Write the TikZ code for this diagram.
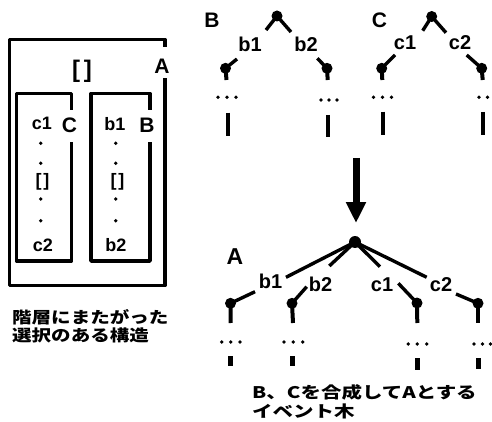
\documentclass[tikz,border=0pt]{standalone}
\usepackage{fontspec}
\setmainfont{Liberation Sans}
\newfontfamily\jp[FakeStretch=1.22]{Noto Sans CJK JP}
\newfontfamily\jpw[FakeStretch=1.28]{Noto Sans CJK JP}
\usetikzlibrary{arrows.meta}
\begin{document}
\begin{tikzpicture}[x=1pt,y=-1pt,
  box/.style={line width=3.4pt, line join=round},
  br/.style={line width=3.4pt},
  vl/.style={line width=4pt},
  dot/.style={circle, fill, inner sep=0pt, minimum size=11pt},
  sdot/.style={circle, fill, inner sep=0pt, minimum size=3.8pt},
  lab/.style={inner sep=0pt, font=\bfseries\fontsize{20}{24}\selectfont},
  blab/.style={inner sep=0pt, font=\bfseries\fontsize{18}{22}\selectfont},
  big/.style={inner sep=0pt, font=\bfseries\fontsize{21}{25}\selectfont},
  jpt/.style={inner sep=0pt, anchor=west, font=\jp\bfseries\fontsize{16}{18}\selectfont},
  jpw/.style={inner sep=0pt, anchor=west, font=\jpw\bfseries\fontsize{16}{18}\selectfont}]
\useasboundingbox (0,0) rectangle (492,422);

% ---------- left: nested boxes ----------
\draw[box] (165,47) -- (165,39.5) -- (9.5,39.5) -- (9.5,285.5) -- (165,285.5) -- (165,78);
\draw[box] (71.5,110) -- (71.5,93.5) -- (16.5,93.5) -- (16.5,261) -- (71.5,261) -- (71.5,142);
\draw[box] (150,110) -- (150,93.5) -- (91,93.5) -- (91,261) -- (150,261) -- (150,142);
\node[big] (lA) at (162,66) {A};
\node[big] (lC) at (69.5,125.5) {C};
\node[big] (lB) at (147,125) {B};
\node[inner sep=0pt, font=\bfseries\fontsize{24}{28}\selectfont] (lbr) at (82,71) {[\hspace{4pt}]};
\node[blab] (lc1) at (42,123) {c1};
\node[blab] (lc2) at (43,245) {c2};
\node[blab] (lb1) at (115,124) {b1};
\node[blab] (lb2) at (116,245) {b2};
\foreach \yy [count=\i] in {143.3,163.3,199,220.7} {
  \node[sdot] (cd\i) at (40.7,\yy) {};
  \node[sdot] (bd\i) at (115.7,\yy) {};
}
\node[blab] (cbr) at (42.5,181.5) {[\hspace{2pt}]};
\node[blab] (bbr) at (117.5,181.5) {[\hspace{2pt}]};

% ---------- top tree B ----------
\node[big] (tB) at (212,20.5) {B};
\node[dot] (Br) at (277,16) {};
\coordinate (Brl) at (266,30);
\coordinate (Brr) at (291,32);
\draw[br] (Br.center) -- (Brl);
\draw[br] (Br.center) -- (Brr);
\node[lab] (Bb1) at (250,44.5) {b1};
\node[lab] (Bb2) at (306,44.5) {b2};
\node[dot] (Bl) at (225.5,68.3) {};
\coordinate (Bls) at (237,59);
\coordinate (Blv) at (226.5,80);
\draw[br] (Bl.center) -- (Bls);
\draw[vl] (Bl.center) -- (Blv);
\node[dot] (Bq) at (327,68.3) {};
\coordinate (Bqs) at (317.3,58.3);
\coordinate (Bqv) at (327.7,80);
\draw[br] (Bq.center) -- (Bqs);
\draw[vl] (Bq.center) -- (Bqv);
\foreach \xx [count=\i] in {218,227,236} { \node[sdot] (Bld\i) at (\xx,97.3) {}; }
\foreach \xx [count=\i] in {321,329,337} { \node[sdot] (Bqd\i) at (\xx,100) {}; }
\coordinate (Blt) at (227.5,112.7); \coordinate (Blb) at (227.5,136);
\coordinate (Bqt) at (328,115); \coordinate (Bqb) at (328,137);
\draw[vl] (Blt) -- (Blb);
\draw[vl] (Bqt) -- (Bqb);

% ---------- top tree C ----------
\node[big] (tC) at (379.5,20.5) {C};
\node[dot] (Cr) at (431.7,16.5) {};
\coordinate (Crl) at (422.7,30.7);
\coordinate (Crr) at (446,32.7);
\draw[br] (Cr.center) -- (Crl);
\draw[br] (Cr.center) -- (Crr);
\node[lab] (Cc1) at (405,42.5) {c1};
\node[lab] (Cc2) at (460,42.5) {c2};
\node[dot] (Cl) at (381.7,68.3) {};
\coordinate (Cls) at (395,55);
\coordinate (Clv) at (382.3,80);
\draw[br] (Cl.center) -- (Cls);
\draw[vl] (Cl.center) -- (Clv);
\node[dot] (Cq) at (481.7,68.3) {};
\coordinate (Cqs) at (466.7,55);
\coordinate (Cqv) at (482.7,80);
\draw[br] (Cq.center) -- (Cqs);
\draw[vl] (Cq.center) -- (Cqv);
\foreach \xx [count=\i] in {373.5,382.5,391.5} { \node[sdot] (Cld\i) at (\xx,97.3) {}; }
\foreach \xx [count=\i] in {479,487.5} { \node[sdot] (Cqd\i) at (\xx,97.3) {}; }
\coordinate (Clt) at (382.7,111.7); \coordinate (Clb) at (382.7,135);
\coordinate (Cqt) at (483.3,112); \coordinate (Cqb) at (483.3,135);
\draw[vl] (Clt) -- (Clb);
\draw[vl] (Cqt) -- (Cqb);

% ---------- arrow ----------
\coordinate (as) at (356,158);
\coordinate (ae) at (356,223);
\draw[line width=7pt, -{Triangle[width=19pt,length=21pt]}] (as) -- (ae);

% ---------- bottom tree A ----------
\node[inner sep=0pt, font=\bfseries\fontsize{23}{27}\selectfont] (tA) at (235,256.5) {A};
\node[dot, minimum size=12pt] (Ar) at (355,242) {};
\coordinate (Ab1e) at (286,277.3);
\coordinate (Ab2e) at (329.3,266);
\coordinate (Ac1e) at (380,266.7);
\coordinate (Ac2e) at (426.7,277.3);
\foreach \e in {Ab1e,Ab2e,Ac1e,Ac2e} { \draw[br] (Ar.center) -- (\e); }
\node[lab] (Ab1) at (270.5,281.5) {b1};
\node[lab] (Ab2) at (320.5,284.5) {b2};
\node[lab] (Ac1) at (382,284.5) {c1};
\node[lab] (Ac2) at (441,284.5) {c2};
\node[dot] (k1) at (230.5,303.3) {};
\node[dot] (k2) at (292,303.3) {};
\node[dot] (k3) at (417,303) {};
\node[dot] (k4) at (478,303.3) {};
\coordinate (k1s) at (255,291.7);
\coordinate (k2s) at (306.7,286.7);
\coordinate (k3s) at (398.3,283.3);
\coordinate (k4s) at (456,294);
\foreach \k in {k1,k2,k3,k4} { \draw[br] (\k.center) -- (\k s); }
\coordinate (k1v) at (230.7,323); \coordinate (k2v) at (293,323);
\coordinate (k3v) at (417.3,323); \coordinate (k4v) at (478,323);
\foreach \k in {k1,k2,k3,k4} { \draw[vl] (\k.center) -- (\k v); }
\foreach \xx [count=\i] in {221.7,230.7,240} { \node[sdot] (k1d\i) at (\xx,342) {}; }
\foreach \xx [count=\i] in {284,293.3,302.7} { \node[sdot] (k2d\i) at (\xx,342) {}; }
\foreach \xx [count=\i] in {408.3,417.3,426.7} { \node[sdot] (k3d\i) at (\xx,344) {}; }
\foreach \xx [count=\i] in {474,482.5,490.5} { \node[sdot] (k4d\i) at (\xx,344) {}; }
\coordinate (k1t) at (230.7,356); \coordinate (k1b) at (230.7,366);
\coordinate (k2t) at (292.7,356); \coordinate (k2b) at (292.7,366);
\coordinate (k3t) at (417.3,358); \coordinate (k3b) at (417.3,370);
\coordinate (k4t) at (478.3,358); \coordinate (k4b) at (478.3,369);
\foreach \k in {k1,k2,k3,k4} { \draw[line width=4.5pt] (\k t) -- (\k b); }

% ---------- captions ----------
\node[jpt] (cap1) at (12,317.5) {階層にまたがった};
\node[jpt] (cap2) at (12,335.5) {選択のある構造};
\node[jpw] (cap3) at (252,392.5) {B、Cを合成してAとする};
\node[jpw] (cap4) at (252,411.5) {イベント木};
\end{tikzpicture}
\end{document}
